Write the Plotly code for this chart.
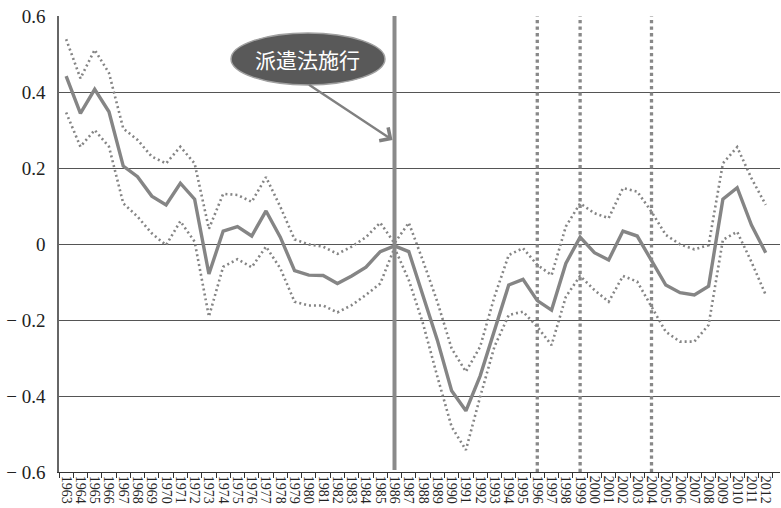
import plotly.graph_objects as go

# Survey years
years = [str(y) for y in range(1963, 2013)]

# Point estimate
estimate = [
    0.442, 0.344, 0.407, 0.348, 0.205, 0.177, 0.126, 0.103, 0.160, 0.118,
    -0.079, 0.034, 0.046, 0.021, 0.087, 0.018, -0.070, -0.082, -0.083, -0.104,
    -0.084, -0.061, -0.020, -0.005, -0.020, -0.133, -0.253, -0.386, -0.439, -0.347,
    -0.226, -0.108, -0.093, -0.149, -0.174, -0.051, 0.018, -0.023, -0.042, 0.034,
    0.021, -0.042, -0.108, -0.128, -0.134, -0.111, 0.118, 0.148, 0.050, -0.023,
]

# Upper confidence bound
upper = [
    0.539, 0.436, 0.511, 0.450, 0.304, 0.274, 0.230, 0.212, 0.256, 0.212,
    0.040, 0.132, 0.129, 0.111, 0.176, 0.098, 0.012, -0.001, -0.007, -0.026,
    -0.007, 0.018, 0.056, 0.002, 0.056, -0.045, -0.152, -0.275, -0.336, -0.270,
    -0.139, -0.029, -0.011, -0.055, -0.082, 0.046, 0.107, 0.081, 0.068, 0.147,
    0.138, 0.085, 0.024, -0.001, -0.014, -0.003, 0.212, 0.255, 0.173, 0.103,
]

# Lower confidence bound
lower = [
    0.346, 0.256, 0.300, 0.256, 0.107, 0.072, 0.028, -0.003, 0.060, 0.006,
    -0.191, -0.060, -0.040, -0.061, -0.007, -0.064, -0.152, -0.162, -0.162, -0.180,
    -0.161, -0.134, -0.104, -0.010, -0.095, -0.210, -0.349, -0.481, -0.542, -0.402,
    -0.270, -0.187, -0.178, -0.218, -0.266, -0.139, -0.084, -0.121, -0.152, -0.084,
    -0.099, -0.165, -0.231, -0.257, -0.257, -0.213, 0.011, 0.032, -0.047, -0.134,
]

# Y-axis ticks
y_ticks = [-0.6, -0.4, -0.2, 0, 0.2, 0.4, 0.6]
y_labels = ["− 0.6", "− 0.4", "− 0.2", "0", "0.2", "0.4", "0.6"]

# Marked years
law_year = "1986"
marker_years = ["1996", "1999", "2004"]
law_label = "派遣法施行"

LINE = "#858585"
SERIF = "Liberation Serif"

fig = go.Figure()

for band in (upper, lower):
    fig.add_trace(go.Scatter(
        x=years, y=band, mode="lines",
        line=dict(color=LINE, width=2.6, dash="2px,3px"),
        hoverinfo="skip", showlegend=False,
    ))

fig.add_trace(go.Scatter(
    x=years, y=estimate, mode="lines",
    line=dict(color=LINE, width=3.4),
    showlegend=False,
))

# Vertical reference lines (category index on the x axis)
law_idx = years.index(law_year)
fig.add_shape(type="line", xref="x", yref="y", x0=law_idx, x1=law_idx,
              y0=-0.595, y1=0.6, line=dict(color="#8a8a8a", width=4), layer="above")
for yr in marker_years:
    idx = years.index(yr)
    fig.add_shape(type="line", xref="x", yref="y", x0=idx, x1=idx,
                  y0=-0.6, y1=0.6, line=dict(color="#888888", width=3.3, dash="dot"),
                  layer="above")

# Callout bubble
fig.add_shape(type="circle", xref="paper", yref="paper",
              x0=0.2386, x1=0.4521, y0=0.8487, y1=0.9627,
              fillcolor="#595959", line=dict(color="#a0a0a0", width=1.5), layer="above")
fig.add_annotation(xref="paper", yref="paper", x=0.3453, y=0.9057,
                   xanchor="center", yanchor="middle",
                   text=law_label, showarrow=False,
                   font=dict(family="Noto Sans CJK JP", size=21, color="white"))
fig.add_annotation(xref="x", yref="y", x=law_idx, y=0.274,
                   ax=-85, ay=-56, axref="pixel", ayref="pixel",
                   text="", showarrow=True, arrowhead=4, arrowsize=1.3,
                   arrowwidth=2.4, arrowcolor="#808080", standoff=0, xshift=-2)

fig.update_layout(
    width=781, height=508,
    margin=dict(l=59, r=1, t=16, b=36),
    paper_bgcolor="white", plot_bgcolor="white",
    font=dict(family=SERIF, color="#222222"),
    xaxis=dict(
        type="category", categoryorder="array", categoryarray=years,
        tickmode="array", tickvals=years, ticktext=years,
        range=[-0.5, 50.0], tickson="boundaries",
        showgrid=False, showline=True, linecolor="#333333", linewidth=1,
        ticks="outside", ticklen=5, tickcolor="#333333",
        tickangle=90, tickfont=dict(family=SERIF, size=14, color="#222222"),
        zeroline=False,
    ),
    yaxis=dict(
        range=[-0.6, 0.6], tickvals=y_ticks, ticktext=y_labels,
        showgrid=True, gridcolor="#555555", gridwidth=1,
        showline=True, linecolor="#666666", linewidth=1.5,
        ticks="", tickfont=dict(family=SERIF, size=19, color="#222222"),
        ticklabelstandoff=8, zeroline=False,
    ),
)

fig.write_html("out.html")
